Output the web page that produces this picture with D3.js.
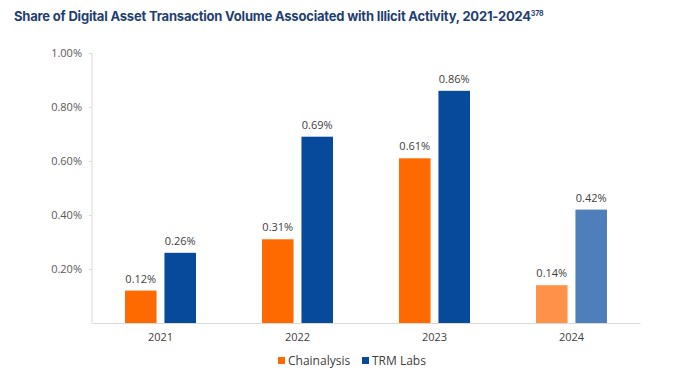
<!DOCTYPE html>
<html>
<head>
<meta charset="utf-8">
<script src="https://cdn.jsdelivr.net/npm/d3@7"></script>
<style>
  body { margin: 0; background: #fff; }
  text { font-family: "Open Sans", sans-serif; }
</style>
</head>
<body>
<div id="chart"></div>
<script>
const years = ["2021", "2022", "2023", "2024"];
const series = ["Chainalysis", "TRM Labs"];
const chainalysis = [0.12, 0.31, 0.61, 0.14];
const trmLabs = [0.26, 0.69, 0.86, 0.42];
const yTicks = [0.2, 0.4, 0.6, 0.8, 1.0];

const width = 686, height = 376;
const margin = { top: 53, right: 46, bottom: 53, left: 92 };

const svg = d3.select("#chart")
  .append("svg")
  .attr("width", width)
  .attr("height", height);

// title
const title = svg.append("text")
  .attr("x", 14)
  .attr("y", 21)
  .attr("fill", "#1f3f73")
  .style("font-family", "Inter, sans-serif")
  .style("font-weight", "700")
  .style("font-size", "13px")
  .style("letter-spacing", "-0.2px");
title.append("tspan")
  .text("Share of Digital Asset Transaction Volume Associated with Illicit Activity, 2021-2024");
title.append("tspan")
  .attr("dy", -5)
  .style("font-size", "7px")
  .text("378");

const x = d3.scaleBand()
  .domain(years)
  .range([margin.left, width - margin.right]);

const xInner = d3.scaleBand()
  .domain(series)
  .range([33, x.bandwidth() - 33])
  .paddingInner(0.2);

const y = d3.scaleLinear()
  .domain([0, 1])
  .range([height - margin.bottom, margin.top]);

// axes
const yAxis = svg.append("g")
  .attr("transform", `translate(${margin.left},0)`)
  .call(d3.axisLeft(y).tickValues(yTicks).tickSize(3).tickFormat(d => d.toFixed(2) + "%"));
yAxis.select(".domain").attr("stroke", "#d9d9d9").attr("d", `M0,${y(1)}V${y(0)}`);
yAxis.selectAll(".tick line").attr("stroke", "#d9d9d9");
yAxis.selectAll(".tick text")
  .attr("fill", "#595959")
  .attr("x", -10)
  .style("font-size", "11px");

const xAxis = svg.append("g")
  .attr("transform", `translate(0,${y(0)})`)
  .call(d3.axisBottom(x).tickSize(0).tickPadding(10));
xAxis.select(".domain").attr("stroke", "#d9d9d9");
xAxis.selectAll(".tick text")
  .attr("fill", "#404040")
  .style("font-size", "11px");

const colors = {
  "Chainalysis": ["#ff6a00", "#ff6a00", "#ff6a00", "#ff9248"],
  "TRM Labs": ["#074a9b", "#074a9b", "#074a9b", "#4f7fba"]
};

const rows = years.map((yr, i) => ({
  year: yr,
  values: [
    { key: "Chainalysis", value: chainalysis[i], i },
    { key: "TRM Labs", value: trmLabs[i], i }
  ]
}));

const groups = svg.selectAll(".group")
  .data(rows)
  .join("g")
  .attr("class", "group")
  .attr("transform", d => `translate(${x(d.year)},0)`);

groups.selectAll("rect")
  .data(d => d.values)
  .join("rect")
  .attr("x", d => xInner(d.key))
  .attr("width", xInner.bandwidth())
  .attr("y", d => y(d.value))
  .attr("height", d => y(0) - y(d.value))
  .attr("fill", d => colors[d.key][d.i]);

groups.selectAll(".label")
  .data(d => d.values)
  .join("text")
  .attr("class", "label")
  .attr("x", d => xInner(d.key) + xInner.bandwidth() / 2)
  .attr("y", d => y(d.value) - 8)
  .attr("text-anchor", "middle")
  .attr("fill", "#404040")
  .style("font-size", "11px")
  .text(d => d.value.toFixed(2) + "%");

// legend
const legend = svg.append("g").attr("transform", `translate(278,${height - 15})`);
const legX = [0, 84];
series.forEach((s, i) => {
  const g = legend.append("g").attr("transform", `translate(${legX[i]},0)`);
  g.append("rect")
    .attr("x", 0).attr("y", -4)
    .attr("width", 7).attr("height", 7)
    .attr("fill", colors[s][0]);
  g.append("text")
    .attr("x", 10).attr("y", 0)
    .attr("dy", "0.35em")
    .attr("fill", "#404040")
    .style("font-size", "12px")
    .text(s);
});
</script>
</body>
</html>
